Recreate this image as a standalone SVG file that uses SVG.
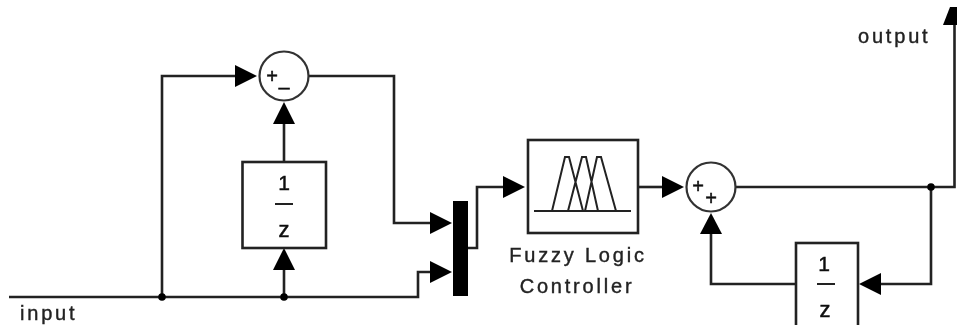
<svg xmlns="http://www.w3.org/2000/svg" width="957" height="325" viewBox="0 0 957 325">
<style>
.w{fill:none;stroke:#222;stroke-width:2.6}
.b{fill:#fff;stroke:#222;stroke-width:2.6}
.c{fill:#fff;stroke:#333;stroke-width:2.2}
.a{fill:#000}
.t{font-family:"Liberation Sans",Arial,sans-serif;font-size:20px;fill:#222;stroke:#222;stroke-width:.4px;letter-spacing:2.8px}
.m{text-anchor:middle}
.g{font-family:"Liberation Sans",Arial,sans-serif;fill:#111;stroke:#111;stroke-width:.5px;text-anchor:middle}
.k{fill:none;stroke:#222;stroke-width:2}
</style>
<defs><filter id="s" x="0" y="0" width="100%" height="100%"><feGaussianBlur stdDeviation="0.7"/></filter></defs>
<rect width="957" height="325" fill="#fff"/>
<g filter="url(#s)">
<g id="connectors">
<path class="w" d="M9 297H418V272H430"/>
<path class="w" d="M162 297V76H235"/>
<path class="w" d="M284 297V270"/>
<path class="w" d="M284 162V124"/>
<path class="w" d="M309 76H394V223H430"/>
<path class="w" d="M468 248H477V187H503"/>
<path class="w" d="M638 187H662"/>
<path class="w" d="M736 187H954.500V25"/>
<path class="w" d="M931 187V284H881"/>
<path class="w" d="M796 284H711V234"/>
<circle class="a" cx="162" cy="297" r="3.8"/>
<circle class="a" cx="284" cy="297" r="3.8"/>
<circle class="a" cx="931" cy="187" r="3.8"/>
<path class="a" d="M235 65L257 76L235 87Z"/>
<path class="a" d="M273 124L284 102L295 124Z"/>
<path class="a" d="M273 270L284 248L295 270Z"/>
<path class="a" d="M430 212L452 223L430 234Z"/>
<path class="a" d="M430 261L452 272L430 283Z"/>
<path class="a" d="M503 176L525 187L503 198Z"/>
<path class="a" d="M662 176L684 187L662 198Z"/>
<path class="a" d="M700 234L711 213L722 234Z"/>
<path class="a" d="M881 273L859 284L881 295Z"/>
<path class="a" d="M943 25L950 7H957V25Z"/>
</g>
<g id="sum1">
<circle class="c" cx="284" cy="76" r="24.500"/>
<text class="g" x="272" y="83" font-size="20">+</text>
<text class="g" x="284" y="94" font-size="20">–</text>
</g>
<g id="delay1">
<rect class="b" x="242.500" y="162" width="83.500" height="86"/>
<text class="g" x="284" y="190" font-size="21">1</text>
<path class="k" d="M275 204H293"/>
<text class="g" x="284" y="237" font-size="22">z</text>
</g>
<g id="mux"><rect x="453" y="201" width="15" height="95" fill="#000"/></g>
<g id="flc">
<rect class="b" x="528" y="140" width="110" height="93"/>
<path class="k" d="M534 211H631M552 211L565 157H569L583 211M568 211L582 157H586L598 211M585 211L597 157H601L616 211"/>
<text class="t m" x="578" y="262">Fuzzy Logic</text>
<text class="t m" x="577" y="293">Controller</text>
</g>
<g id="sum2">
<circle class="c" cx="711" cy="187" r="24.500"/>
<text class="g" x="698" y="193" font-size="20">+</text>
<text class="g" x="711" y="205" font-size="20">+</text>
</g>
<g id="delay2">
<rect class="b" x="796" y="243" width="62" height="90"/>
<text class="g" x="824" y="271" font-size="21">1</text>
<path class="k" d="M817 284H835"/>
<text class="g" x="825" y="317" font-size="22">z</text>
</g>
<g id="labels">
<text class="t" x="20" y="320">input</text>
<text class="t" x="858" y="43">output</text>
</g>
</g>
</svg>
